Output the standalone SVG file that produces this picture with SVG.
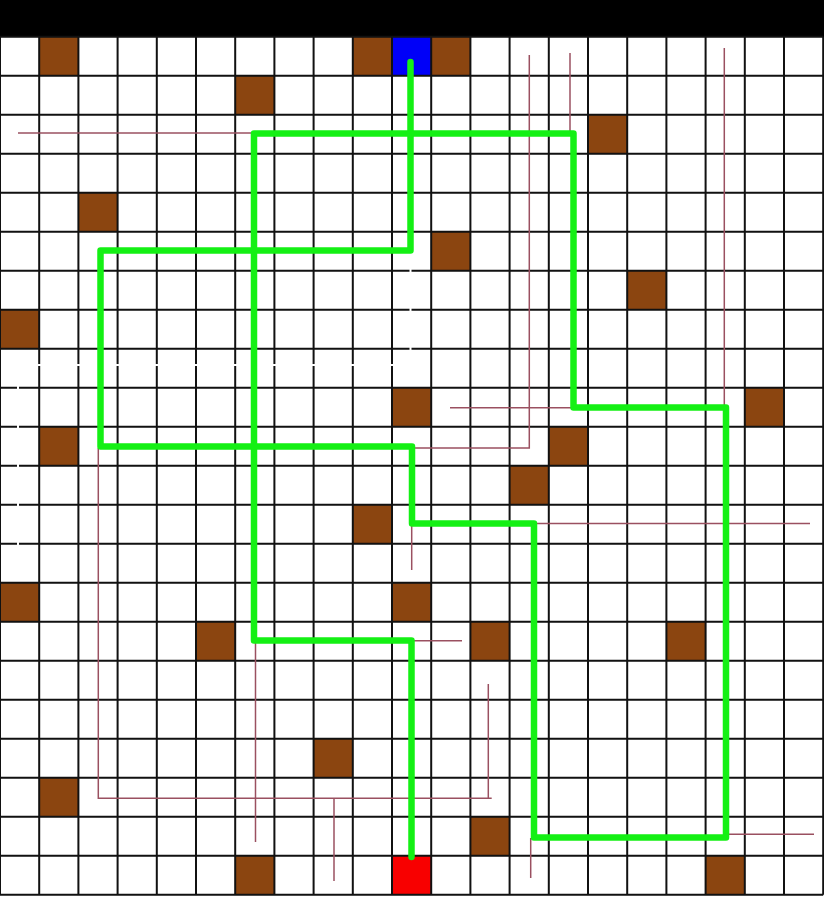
<svg xmlns="http://www.w3.org/2000/svg" width="824" height="901" viewBox="0 0 824 901">
<style>
.cell{fill:#8b4510}
.grid{fill:none;stroke:#111;stroke-width:2}
.trail{fill:none;stroke:#9a5060;stroke-width:1.5}
.ghost{fill:none;stroke:#fff;stroke-width:2}
.route{fill:none;stroke:#14f014;stroke-width:6.5;stroke-linecap:round;stroke-linejoin:round}
</style>
<rect x="0" y="0" width="824" height="901" fill="#fff"/>
<rect id="topbar" x="0" y="0" width="824" height="37" fill="#000"/>
<g id="walls">
<rect class="cell" x="39.2" y="36.8" width="39.2" height="39"/>
<rect class="cell" x="352.8" y="36.8" width="39.2" height="39"/>
<rect class="cell" x="431.2" y="36.8" width="39.2" height="39"/>
<rect class="cell" x="235.2" y="75.8" width="39.2" height="39"/>
<rect class="cell" x="588" y="114.8" width="39.2" height="39"/>
<rect class="cell" x="78.4" y="192.8" width="39.2" height="39"/>
<rect class="cell" x="431.2" y="231.8" width="39.2" height="39"/>
<rect class="cell" x="627.2" y="270.8" width="39.2" height="39"/>
<rect class="cell" x="0" y="309.8" width="39.2" height="39"/>
<rect class="cell" x="392" y="387.8" width="39.2" height="39"/>
<rect class="cell" x="744.8" y="387.8" width="39.2" height="39"/>
<rect class="cell" x="39.2" y="426.8" width="39.2" height="39"/>
<rect class="cell" x="548.8" y="426.8" width="39.2" height="39"/>
<rect class="cell" x="509.6" y="465.8" width="39.2" height="39"/>
<rect class="cell" x="352.8" y="504.8" width="39.2" height="39"/>
<rect class="cell" x="0" y="582.8" width="39.2" height="39"/>
<rect class="cell" x="392" y="582.8" width="39.2" height="39"/>
<rect class="cell" x="196" y="621.8" width="39.2" height="39"/>
<rect class="cell" x="470.4" y="621.8" width="39.2" height="39"/>
<rect class="cell" x="666.4" y="621.8" width="39.2" height="39"/>
<rect class="cell" x="313.6" y="738.8" width="39.2" height="39"/>
<rect class="cell" x="39.2" y="777.8" width="39.2" height="39"/>
<rect class="cell" x="470.4" y="816.8" width="39.2" height="39"/>
<rect class="cell" x="235.2" y="855.8" width="39.2" height="39"/>
<rect class="cell" x="705.6" y="855.8" width="39.2" height="39"/>
</g>
<rect id="start" x="392" y="36.8" width="39.2" height="39" fill="#0000f8"/>
<rect id="goal" x="392" y="855.8" width="39.2" height="39" fill="#f80000"/>
<path id="grid" class="grid" d="M0 36.8V894.8M39.2 36.8V894.8M78.4 36.8V894.8M117.6 36.8V894.8M156.8 36.8V894.8M196 36.8V894.8M235.2 36.8V894.8M274.4 36.8V894.8M313.6 36.8V894.8M352.8 36.8V894.8M392 36.8V894.8M431.2 36.8V894.8M470.4 36.8V894.8M509.6 36.8V894.8M548.8 36.8V894.8M588 36.8V894.8M627.2 36.8V894.8M666.4 36.8V894.8M705.6 36.8V894.8M744.8 36.8V894.8M784 36.8V894.8M823.2 36.8V894.8M0 36.8H823.2M0 75.8H823.2M0 114.8H823.2M0 153.8H823.2M0 192.8H823.2M0 231.8H823.2M0 270.8H823.2M0 309.8H823.2M0 348.8H823.2M0 387.8H823.2M0 426.8H823.2M0 465.8H823.2M0 504.8H823.2M0 543.8H823.2M0 582.8H823.2M0 621.8H823.2M0 660.8H823.2M0 699.8H823.2M0 738.8H823.2M0 777.8H823.2M0 816.8H823.2M0 855.8H823.2M0 894.8H823.2"/>
<g id="trails">
<path class="ghost" d="M410.5 252V365H18V545"/>
<path class="trail" d="M18 133H254"/>
<path class="trail" d="M529.3 55V448H412"/>
<path class="trail" d="M570 53V133"/>
<path class="trail" d="M724.3 48V407.5"/>
<path class="trail" d="M450 407.7H573"/>
<path class="trail" d="M411.7 523V570"/>
<path class="trail" d="M534 523.5H810"/>
<path class="trail" d="M411 640.7H462"/>
<path class="trail" d="M98.3 448V798.3H491.7"/>
<path class="trail" d="M488.3 684V798"/>
<path class="trail" d="M255.5 640V842"/>
<path class="trail" d="M334 798V881"/>
<path class="trail" d="M530.7 838V878"/>
<path class="trail" d="M728 834.3H814"/>
</g>
<g id="connectors">
<path class="route" d="M410.5 62V250.5H100.5V446.5H412V523.5H534V837.5H726V407.5H573.5V133.5H254V640.5H411.5V857"/>
</g>
</svg>
